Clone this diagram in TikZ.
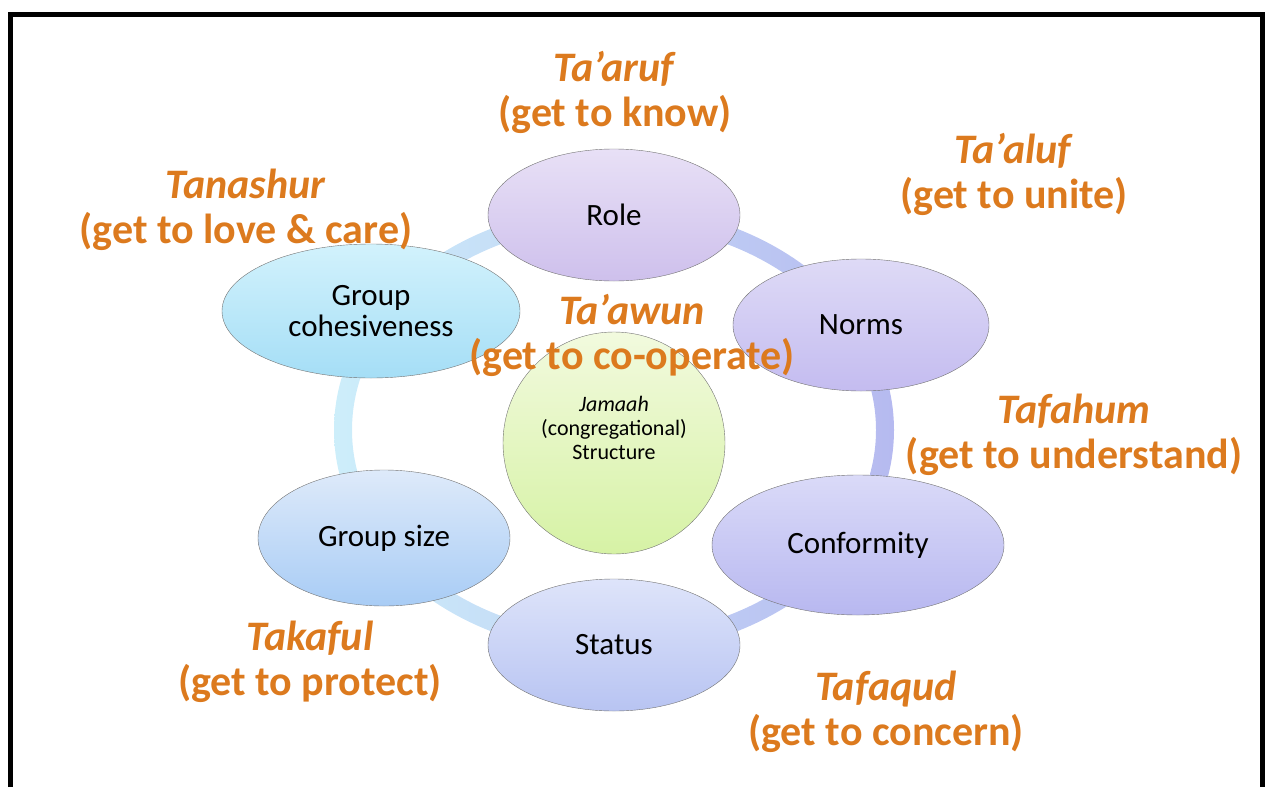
\documentclass[tikz,border=0pt]{standalone}
\usepackage{fontspec}
\setmainfont{Carlito}
\usetikzlibrary{shapes.geometric,positioning}
\definecolor{tagorange}{RGB}{220,122,30}
\definecolor{ringcyan}{RGB}{205,238,250}
\definecolor{ringblue}{RGB}{182,186,240}
\definecolor{roletop}{RGB}{232,224,246}
\definecolor{rolebot}{RGB}{206,192,236}
\definecolor{normtop}{RGB}{222,218,246}
\definecolor{normbot}{RGB}{196,188,240}
\definecolor{conftop}{RGB}{218,218,248}
\definecolor{confbot}{RGB}{184,184,240}
\definecolor{stattop}{RGB}{222,228,250}
\definecolor{statbot}{RGB}{184,196,242}
\definecolor{sizetop}{RGB}{222,234,250}
\definecolor{sizebot}{RGB}{168,204,245}
\definecolor{cohtop}{RGB}{210,242,252}
\definecolor{cohbot}{RGB}{165,222,246}
\definecolor{hubtop}{RGB}{242,250,222}
\definecolor{hubbot}{RGB}{214,242,165}
\tikzstyle{bubble}=[ellipse,draw=black!55,thin,inner sep=0pt,minimum width=252pt,minimum height=132pt,font=\fontsize{31}{31}\selectfont,align=center]
\tikzstyle{term}=[text=tagorange,font=\bfseries\fontsize{42}{45}\selectfont,align=center]

\begin{document}
\begin{tikzpicture}[x=1pt,y=-1pt]
\useasboundingbox (0,0) rectangle (1265,787);
% frame
\draw[line width=5pt] (10,787) -- (10,14) -- (1262,14) -- (1262,787);
% ring behind the bubbles
\shade[even odd rule,shading angle=-40,left color=ringcyan,right color=ringblue]
  (614,430) ellipse [x radius=280,y radius=224]
  (614,430) ellipse [x radius=262,y radius=206];
% bubbles
\node [bubble,top color=roletop,bottom color=rolebot] (role) at (614,215) {Role};
\node [bubble,top color=normtop,bottom color=normbot,minimum width=256pt] (norms) at (861,325) {Norms};
\node [bubble,top color=conftop,bottom color=confbot,minimum width=292pt,minimum height=140pt] (conformity) at (858,545) {Conformity};
\node [bubble,top color=stattop,bottom color=statbot] (status) at (614,645) {Status};
\node [bubble,top color=sizetop,bottom color=sizebot,minimum height=136pt] (size) at (384,538) {Group size};
\node [bubble,top color=cohtop,bottom color=cohbot,minimum width=298pt,minimum height=134pt] (cohesion) at (371,311) {Group\\cohesiveness};
\node [circle,draw=black!55,thin,minimum size=222pt,top color=hubtop,bottom color=hubbot] (jamaah) at (614,443) {};
\node [align=center,font=\fontsize{22}{24}\selectfont] (jtext) at (614,428) {\textit{Jamaah}\\(congregational)\\Structure};
% terms
\node [term] (taaruf) at (615,92) {\textit{Ta’aruf}\\(get to know)};
\node [term] (taaluf) at (1014,174) {\textit{Ta’aluf}\\(get to unite)};
\node [term] (tanashur) at (246,210) {\textit{Tanashur}\\(get to love \& care)};
\node [term] (taawun) at (632,335) {\textit{Ta’awun}\\(get to co-operate)};
\node [term] (tafahum) at (1074,435) {\textit{Tafahum}\\(get to understand)};
\node [term] (takaful) at (310,662) {\textit{Takaful}\\(get to protect)};
\node [term] (tafaqud) at (886,712) {\textit{Tafaqud}\\(get to concern)};
\end{tikzpicture}
\end{document}
